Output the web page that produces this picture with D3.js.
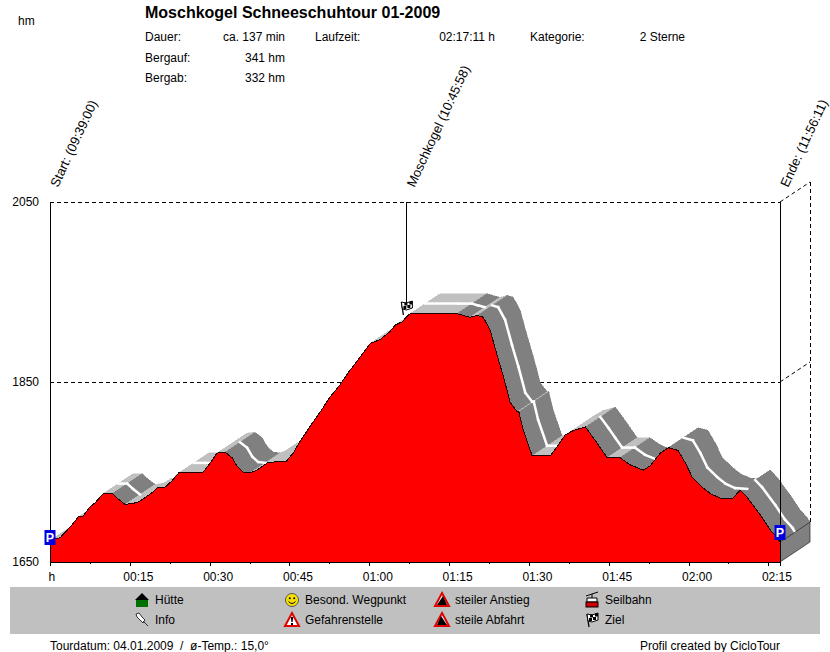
<!DOCTYPE html>
<html>
<head>
<meta charset="utf-8">
<script src="https://cdn.jsdelivr.net/npm/d3@7"></script>
<style>
    body { margin: 0; background: #fff; }
    text { font-family: "Liberation Sans", Arial, sans-serif; font-size: 12px; fill: #000; white-space: pre; }
    .title { font-size: 16px; font-weight: bold; }
    .rotated { font-size: 13px; }
    .axis path, .axis line { stroke: #000; shape-rendering: crispEdges; }
</style>
</head>
<body>
<script>
(function () {

    //profile: minutes since start, height in metres
    var profileMinutes = [0, 1.9, 3.8, 5.3, 6.2, 7.5, 8.5, 10, 11.7, 12.8, 14.1, 16.4, 17.5, 19.4, 20.3, 21.6, 22.9, 24.2, 26.3, 27.6, 28.8, 30.1, 31.4, 32.9, 34.2, 35.2, 36.3, 37.6, 38.9, 40.8, 41.9, 44.4, 45.7, 47, 48.9, 50.8, 52.6, 54.5, 56, 58.3, 60.2, 62, 63.9, 64.8, 66.2, 67.1, 67.7, 73.9, 76.5, 77.6, 78.9, 80.3, 81.4, 82.7, 84, 85.2, 86.5, 87.8, 88.1, 88.9, 90.6, 94, 95.3, 96.8, 98.3, 100.6, 102.1, 103.4, 104.7, 107.1, 109, 111.5, 112.8, 114.7, 116.2, 118, 119.4, 120.7, 122.6, 124.1, 125.9, 128.2, 129.7, 131, 133.5, 135.3, 136.7, 137.18];
    var profileHeights = [1674, 1677, 1689, 1700, 1701, 1711, 1716, 1726, 1726, 1720, 1714, 1716, 1720, 1728, 1733, 1733, 1740, 1749, 1749, 1749, 1750, 1760, 1771, 1772, 1766, 1756, 1750, 1749, 1752, 1760, 1761, 1762, 1771, 1784, 1801, 1817, 1833, 1847, 1860, 1878, 1893, 1897, 1906, 1913, 1917, 1923, 1926, 1926, 1926, 1924, 1922, 1924, 1922, 1908, 1880, 1856, 1827, 1817, 1817, 1797, 1768, 1768, 1778, 1791, 1796, 1800, 1788, 1777, 1766, 1766, 1758, 1752, 1757, 1771, 1777, 1774, 1760, 1744, 1733, 1726, 1721, 1720, 1730, 1722, 1702, 1686, 1677, 1672];

    var heightTicks = [1650, 1850, 2050];
    var minuteTicks = [0, 15, 30, 45, 60, 75, 90, 105, 120, 135];
    var minuteMinorTicks = [7.5, 22.5, 37.5, 52.5, 67.5, 82.5, 97.5, 112.5, 127.5];
    var timeLabels = ["h", "00:15", "00:30", "00:45", "01:00", "01:15", "01:30", "01:45", "02:00", "02:15"];

    var waypointLabels = ["Start: (09:39:00)", "Moschkogel (10:45:58)", "Ende: (11:56:11)"];
    var waypointMinutes = [0, 66.97, 137.18];

    var legendLabels = ["Hütte", "Info", "Besond. Wegpunkt", "Gefahrenstelle", "steiler Anstieg", "steile Abfahrt", "Seilbahn", "Ziel"];

    var width = 830,
        height = 652,
        depthX = 30, //3d extrusion of the ribbon behind the profile
        depthY = -20;

    var svg = d3.select("body")
        .append("svg")
        .attr("width", width)
        .attr("height", height)
        .style("display", "block");

    var x = d3.scaleLinear().domain([0, 137.18]).range([50, 780]);
    var y = d3.scaleLinear().domain([1650, 2050]).range([562, 202]);

    var profile = profileMinutes.map(function (m, i) {
        return { minute: m, height: profileHeights[i] };
    });

    setFrame();
    setRibbon();
    setProfile();
    setAxes();
    setWaypoints();
    setHeader();
    setLegend();

    //dashed height lines and the back wall of the 3d box
    function setFrame() {
        var frame = svg.append("g")
            .attr("stroke", "#000")
            .attr("fill", "none")
            .style("shape-rendering", "crispEdges");

        frame.selectAll(".grid")
            .data([1850, 2050])
            .enter()
            .append("path")
            .attr("class", "grid")
            .attr("stroke-dasharray", "4,3")
            .attr("d", function (d) {
                return "M" + x.range()[0] + "," + y(d) + "H" + x.range()[1];
            });

        svg.selectAll(".gridDepth")
            .data([1850, 2050])
            .enter()
            .append("line")
            .attr("class", "gridDepth")
            .attr("stroke", "#000")
            .attr("stroke-dasharray", "4,3")
            .attr("x1", x.range()[1])
            .attr("y1", function (d) { return y(d); })
            .attr("x2", x.range()[1] + depthX)
            .attr("y2", function (d) { return y(d) + depthY; });

        frame.append("line")
            .attr("stroke-dasharray", "4,3")
            .attr("x1", x.range()[1] + depthX)
            .attr("x2", x.range()[1] + depthX)
            .attr("y1", y(2050) + depthY)
            .attr("y2", y(profileHeights[profileHeights.length - 1]) + depthY);
    }

    //one quad per profile segment, going back from the front face
    function setRibbon() {
        var segments = d3.pairs(profile);

        svg.selectAll(".ribbon")
            .data(segments)
            .enter()
            .append("polygon")
            .attr("class", "ribbon")
            .attr("points", function (d) {
                var x0 = x(d[0].minute), y0 = y(d[0].height),
                    x1 = x(d[1].minute), y1 = y(d[1].height);
                return [[x0, y0], [x1, y1], [x1 + depthX, y1 + depthY], [x0 + depthX, y0 + depthY]].join(" ");
            })
            .attr("fill", function (d) {
                return d[1].height < d[0].height - 0.5 ? "#808080" : "#c0c0c0";
            })
            .attr("stroke", function (d) {
                return d[1].height < d[0].height - 0.5 ? "#808080" : "#c0c0c0";
            })
            .attr("stroke-width", 0.5)
            .style("shape-rendering", "crispEdges");

        //white middle line of the ribbon, not on the climbs
        svg.selectAll(".middle")
            .data(segments.filter(function (d) { return d[1].height <= d[0].height; }))
            .enter()
            .append("line")
            .attr("class", "middle")
            .attr("stroke", "#fff")
            .attr("stroke-width", 2.5)
            .attr("stroke-linecap", "square")
            .attr("x1", function (d) { return x(d[0].minute) + depthX / 2; })
            .attr("y1", function (d) { return y(d[0].height) + depthY / 2; })
            .attr("x2", function (d) { return x(d[1].minute) + depthX / 2; })
            .attr("y2", function (d) { return y(d[1].height) + depthY / 2; });

        //end face of the box
        var last = profile[profile.length - 1];
        svg.append("polygon")
            .attr("points", [
                [x(last.minute), y(1650)],
                [x(last.minute) + depthX, y(1650) + depthY],
                [x(last.minute) + depthX, y(last.height) + depthY],
                [x(last.minute), y(last.height)]
            ].join(" "))
            .attr("fill", "#808080")
            .attr("stroke", "#222")
            .attr("stroke-width", 0.7);
    }

    function setProfile() {
        var area = d3.area()
            .x(function (d) { return x(d.minute); })
            .y0(y(1650))
            .y1(function (d) { return y(d.height); });
        var line = d3.line()
            .x(function (d) { return x(d.minute); })
            .y(function (d) { return y(d.height); });

        svg.append("path")
            .datum(profile)
            .attr("fill", "#ff0000")
            .attr("d", area)
            .style("shape-rendering", "crispEdges");
        svg.append("path")
            .datum(profile)
            .attr("fill", "none")
            .attr("stroke", "#200000")
            .attr("stroke-width", 1)
            .attr("d", line)
            .style("shape-rendering", "crispEdges");
    }

    function setAxes() {
        var bottom = d3.axisBottom(x)
            .tickValues(minuteTicks)
            .tickSize(4)
            .tickFormat(function (d, i) { return timeLabels[i]; });
        var minor = d3.axisBottom(x)
            .tickValues(minuteMinorTicks)
            .tickSize(2)
            .tickFormat("");
        var left = d3.axisLeft(y)
            .tickValues(heightTicks)
            .tickSize(0)
            .tickFormat(d3.format("d"));

        var xAxis = svg.append("g")
            .attr("class", "axis")
            .attr("transform", "translate(0," + y(1650) + ")")
            .call(bottom);
        xAxis.selectAll("text")
            .style("font-size", "12px")
            .style("font-family", "'Liberation Sans', Arial, sans-serif")
            .attr("text-anchor", "start")
            .attr("x", function (d) { return d === 0 ? -2 : -7; })
            .attr("y", 10);

        svg.append("g")
            .attr("class", "axis")
            .attr("transform", "translate(0," + y(1650) + ")")
            .call(minor)
            .select(".domain").remove();

        var yAxis = svg.append("g")
            .attr("class", "axis")
            .attr("transform", "translate(" + x(0) + ",0)")
            .call(left);
        yAxis.selectAll("text")
            .style("font-size", "12px")
            .style("font-family", "'Liberation Sans', Arial, sans-serif")
            .attr("x", -11);

        //closing line at the right hand side
        svg.append("line")
            .attr("x1", x.range()[1]).attr("x2", x.range()[1])
            .attr("y1", y(2050)).attr("y2", y(1650))
            .attr("stroke", "#000")
            .style("shape-rendering", "crispEdges");
    }

    function setWaypoints() {
        //rotated names above the frame
        svg.selectAll(".rotated")
            .data(waypointLabels)
            .enter()
            .append("text")
            .attr("class", "rotated")
            .attr("transform", function (d, i) {
                return "translate(" + (x(waypointMinutes[i]) + 8) + ",188) rotate(-65)";
            })
            .text(function (d) { return d; });

        //line down to the summit
        var summit = x(waypointMinutes[1]);
        svg.append("line")
            .attr("x1", summit).attr("x2", summit)
            .attr("y1", y(2050)).attr("y2", 303)
            .attr("stroke", "#000")
            .style("shape-rendering", "crispEdges");
        drawFlag(svg.append("g").attr("transform", "translate(" + summit + ",308)"));

        //parking signs at both ends
        drawParking(x(waypointMinutes[0]), 537.5);
        drawParking(x(waypointMinutes[2]), 532.5);
    }

    function drawParking(cx, cy) {
        svg.append("rect")
            .attr("x", cx - 5.5).attr("y", cy - 7.5)
            .attr("width", 11).attr("height", 15)
            .attr("fill", "#0000e0");
        svg.append("text")
            .attr("x", cx).attr("y", cy + 4.5)
            .attr("text-anchor", "middle")
            .style("font-size", "12.5px")
            .style("font-weight", "bold")
            .style("fill", "#fff")
            .text("P");
    }

    function drawFlag(g) {
        g.append("path")
            .attr("d", "M-5,-6L-3,7")
            .attr("stroke", "#000")
            .attr("stroke-width", 1.3);
        g.append("path")
            .attr("d", "M-5,-6L0,-5L6,-7L6,0L0,2L-4,1Z")
            .attr("fill", "#fff")
            .attr("stroke", "#000");
        g.append("path")
            .attr("d", "M-2,-5.5h3v3h-3ZM3,-6.5h3v3h-3ZM-3,-2h3v3h-3ZM1,-3h3v3h-3Z")
            .attr("fill", "#000");
    }

    function setHeader() {
        function label(str, px, py, anchor) {
            svg.append("text")
                .attr("x", px).attr("y", py)
                .attr("text-anchor", anchor || "start")
                .text(str);
        }

        label("hm", 18, 25);

        svg.append("text")
            .attr("class", "title")
            .attr("x", 145).attr("y", 18)
            .text("Moschkogel Schneeschuhtour 01-2009");

        label("Dauer:", 145, 41);
        label("ca. 137 min", 285, 41, "end");
        label("Laufzeit:", 315, 41);
        label("02:17:11 h", 495, 41, "end");
        label("Kategorie:", 530, 41);
        label("2 Sterne", 685, 41, "end");
        label("Bergauf:", 145, 62);
        label("341 hm", 285, 62, "end");
        label("Bergab:", 145, 82);
        label("332 hm", 285, 82, "end");

        label("Tourdatum: 04.01.2009  /  ø-Temp.: 15,0°", 50, 650);
        label("Profil created by CicloTour", 780, 650, "end");
    }

    function setLegend() {
        svg.append("rect")
            .attr("x", 10).attr("y", 587)
            .attr("width", 810).attr("height", 47)
            .attr("fill", "#c0c0c0");

        var columns = [142, 292, 442, 592];
        var rows = [600, 620];

        var entries = svg.selectAll(".entry")
            .data(legendLabels)
            .enter()
            .append("g")
            .attr("class", "entry")
            .attr("transform", function (d, i) {
                return "translate(" + columns[Math.floor(i / 2)] + "," + rows[i % 2] + ")";
            });

        entries.append("text")
            .attr("x", 13)
            .attr("y", 4)
            .text(function (d) { return d; });

        //icons, same order as legendLabels
        var hut = d3.select(entries.nodes()[0]);
        hut.append("rect").attr("x", -6).attr("y", 0).attr("width", 12).attr("height", 7).attr("fill", "#007000");
        hut.append("path").attr("d", "M-7,0L0,-7L7,0Z").attr("fill", "#000");

        var info = d3.select(entries.nodes()[1]);
        info.append("path")
            .attr("d", "M-6,-6L-3,-7L0,-3L3,0L1,3L-2,0L-5,-3ZM1,1L6,6")
            .attr("fill", "#fff")
            .attr("stroke", "#333");

        var smile = d3.select(entries.nodes()[2]);
        smile.append("circle").attr("r", 6.5).attr("fill", "#f5e000").attr("stroke", "#555");
        smile.append("circle").attr("cx", -2.2).attr("cy", -1.8).attr("r", 1).attr("fill", "#000");
        smile.append("circle").attr("cx", 2.2).attr("cy", -1.8).attr("r", 1).attr("fill", "#000");
        smile.append("path").attr("d", "M-3.5,1.5Q0,5.5 3.5,1.5").attr("fill", "none").attr("stroke", "#000");

        var danger = d3.select(entries.nodes()[3]);
        danger.append("path").attr("d", "M0,-7L7,6H-7Z").attr("fill", "#fff").attr("stroke", "#e00000").attr("stroke-width", 2);
        danger.append("path").attr("d", "M-1.2,-3H1.2L.6,2H-.6ZM-1,3H1V5H-1Z").attr("fill", "#000");

        var climb = d3.select(entries.nodes()[4]);
        climb.append("path").attr("d", "M0,-7L7,6H-7Z").attr("fill", "#fff").attr("stroke", "#e00000").attr("stroke-width", 2);
        climb.append("path").attr("d", "M-5,5L1,-4L5,5Z").attr("fill", "#000");

        var descent = d3.select(entries.nodes()[5]);
        descent.append("path").attr("d", "M0,-7L7,6H-7Z").attr("fill", "#fff").attr("stroke", "#e00000").attr("stroke-width", 2);
        descent.append("path").attr("d", "M5,5L-1,-4L-5,5Z").attr("fill", "#000");

        var lift = d3.select(entries.nodes()[6]);
        lift.append("path").attr("d", "M-6,-4L6,-8M0,-6V-2").attr("stroke", "#000").attr("fill", "none");
        lift.append("path").attr("d", "M-5,-2H5V2H-5Z").attr("fill", "#fff").attr("stroke", "#000");
        lift.append("rect").attr("x", -6).attr("y", 2).attr("width", 12).attr("height", 5).attr("fill", "#d00000").attr("stroke", "#000");

        drawFlag(d3.select(entries.nodes()[7]));
    }

})();
</script>
</body>
</html>
